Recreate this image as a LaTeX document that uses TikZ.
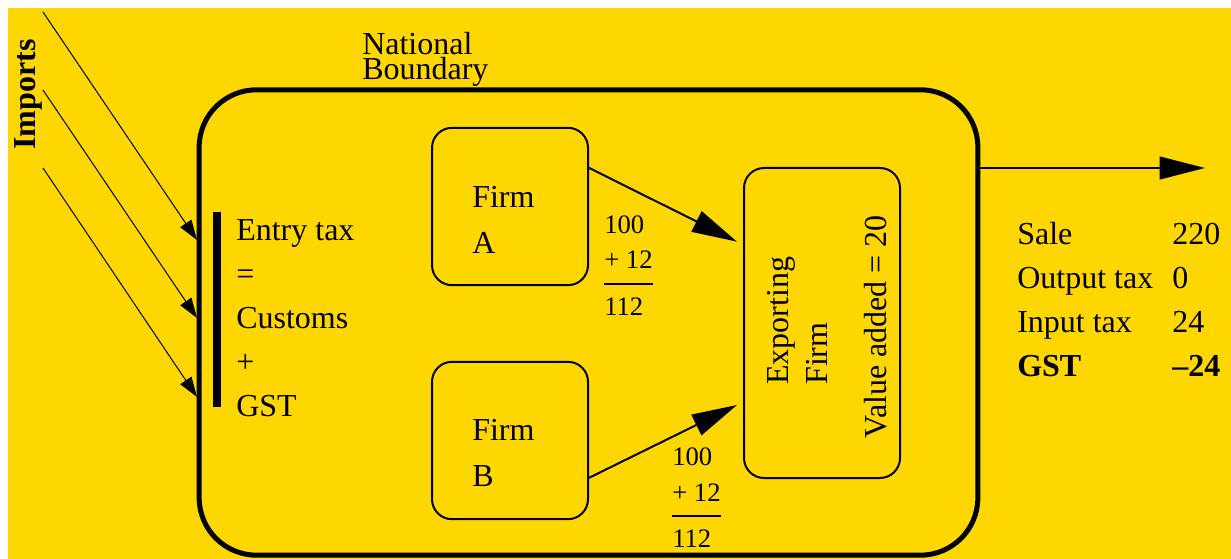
\documentclass[tikz,border=0pt]{standalone}
\usepackage{fontspec}
\setmainfont{Liberation Serif}
\usepackage{tikz}
\usetikzlibrary{arrows.meta,positioning}
\definecolor{gold}{RGB}{255,215,0}

\begin{document}
\begin{tikzpicture}[x=0.75pt,y=-0.75pt,
		every node/.style={font=\fontsize{24}{33}\selectfont,inner sep=0pt},
		boundary/.style={draw,line width=3.75pt,rounded corners=43pt,minimum width=584pt,minimum height=349pt},
		firm/.style={draw,line width=1.5pt,rounded corners=15pt,minimum width=117pt},
		sum/.style={font=\fontsize{20}{27}\selectfont,align=left,anchor=north west},
		bigarrow/.style={-{Triangle[length=34pt,width=17pt]},line width=1.5pt},
		thinarrow/.style={-{Triangle[length=15pt,width=10pt]},line width=0.75pt}]
		\useasboundingbox (0,0) rectangle (1231,559);
		\fill[white] (0,0) rectangle (1231,559);
		\fill[gold] (8,8) rectangle (1231,559);

		\draw (588.5,322.5) node[boundary] (nation) {};
		\draw (362,32) node[anchor=north west,align=left,font=\fontsize{24}{19}\selectfont] (natl) {National\\Boundary};

		% imports
		\draw (35,150) node[rotate=90,anchor=base west,font=\bfseries\fontsize{24}{33}\selectfont] (imports) {Imports};
		\coordinate (imp1) at (43,12);
		\coordinate (imp2) at (43,90);
		\coordinate (imp3) at (43,168);
		\coordinate (ent1) at (197,240);
		\coordinate (ent2) at (197,318);
		\coordinate (ent3) at (197,397);
		\path[thinarrow]
			(imp1) edge (ent1)
			(imp2) edge (ent2)
			(imp3) edge (ent3)
			;

		\draw[line width=6pt] (217,212) -- (217,407);
		\draw (236,219) node[anchor=north west,align=left] (entry) {Entry tax\\=\\Customs\\+\\GST};

		% firms
		\draw (510,206.5) node[firm,minimum height=118pt] (firmA) {};
		\draw (510,440.5) node[firm,minimum height=118pt] (firmB) {};
		\draw (822,323) node[firm,minimum height=232.5pt] (expo) {};
		\draw (472,186.5) node[anchor=north west,align=left,font=\fontsize{24}{34.5}\selectfont] (labA) {Firm\\A};
		\draw (472,419.5) node[anchor=north west,align=left,font=\fontsize{24}{34.5}\selectfont] (labB) {Firm\\B};
		\draw (767,385) node[rotate=90,anchor=north west,align=left,font=\fontsize{24}{29.25}\selectfont] (expotxt) {Exporting\\Firm};
		\draw (886,215) node[rotate=90,anchor=base east] (valadd) {Value added = 20};

		\path[bigarrow]
			([yshift=29pt]firmA.east) 	edge 	([xshift=-4.5pt,yshift=61pt]expo.west)
			([yshift=-28pt]firmB.east) 	edge 	([xshift=-4.5pt,yshift=-61.5pt]expo.west)
			;

		% sums on the arrows
		\draw (604,215) node[sum] (sumA) {100\\+ 12};
		\draw[line width=1.5pt] ([yshift=-11.25pt]sumA.south west) -- ([yshift=-11.25pt]sumA.south east);
		\draw (604,298) node[sum] (totA) {112};
		\draw (672,447) node[sum] (sumB) {100\\+ 12};
		\draw[line width=1.5pt] ([yshift=-11.25pt]sumB.south west) -- ([yshift=-11.25pt]sumB.south east);
		\draw (672,530) node[sum] (totB) {112};

		% export
		\coordinate (exit) at (1205,168);
		\path[bigarrow] (exit -| nation.east) edge (exit);
		\foreach \lab/\val [count=\i] in {Sale/220,Output tax/0,Input tax/24,\textbf{GST}/\textbf{--24}} {
			\draw (1017,201+44*\i) node[anchor=base west] (lab\i) {\lab};
			\draw (1172,201+44*\i) node[anchor=base west] (val\i) {\val};
		}
	\end{tikzpicture}
\end{document}
